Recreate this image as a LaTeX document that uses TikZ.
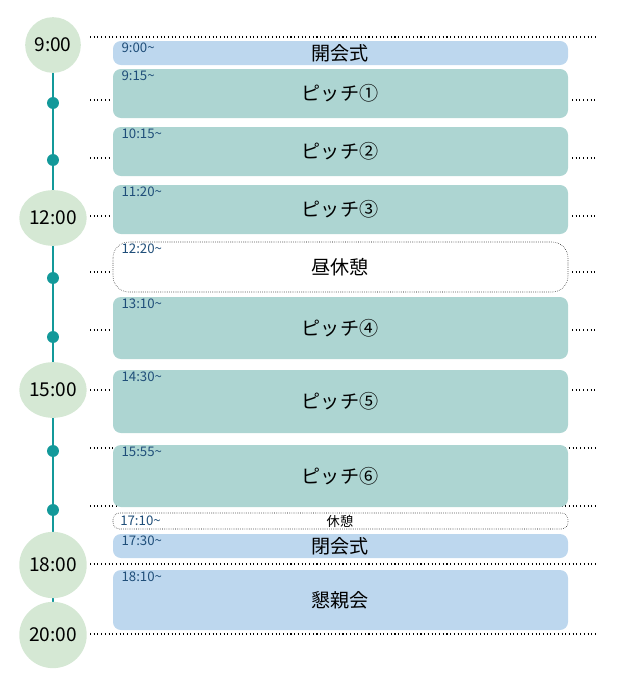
\documentclass[tikz,border=0pt]{standalone}
\usepackage{fontspec}
\setmainfont{Noto Sans CJK JP}
\usetikzlibrary{positioning, shapes.geometric}
\definecolor{lineteal}{HTML}{13999A}
\definecolor{clockgreen}{HTML}{D5E8D4}
\definecolor{pitchfill}{HTML}{ADD5D2}
\definecolor{cerefill}{HTML}{BDD7EE}
\definecolor{timeblue}{HTML}{1F4E79}
\newcommand{\tl}{\textasciitilde}
\begin{document}
\begin{tikzpicture}[x=0.0265cm, y=-0.0265cm,
    clock/.style={ellipse, fill=clockgreen, inner sep=0pt, font=\Large},
    knot/.style={circle, fill=lineteal, minimum size=9pt, inner sep=0pt},
    slot/.style={rounded corners=6pt, draw=none},
    pitch/.style={slot, fill=pitchfill},
    cere/.style={slot, fill=cerefill},
    rest/.style={slot, fill=white, draw=black, densely dotted, rounded corners=12pt},
    stamp/.style={font=\normalsize, text=timeblue, anchor=north west},
    title/.style={font=\Large},
    guide/.style={dotted, thick}
]
    \useasboundingbox (0,0) rectangle (635,689);

    % timeline
    \draw[lineteal, line width=1.5pt] (53,45) -- (53,635);
    \foreach \y in {103,160,278,337,451,510}
        \node[knot] at (53,\y) {};

    % clocks
    \node[clock, minimum width=42pt, minimum height=42pt] (c9) at (53,45) {9:00};
    \node[clock, minimum width=42pt, minimum height=42pt] (c12) at (53,218) {12:00};
    \node[clock, minimum width=42pt, minimum height=42pt] (c15) at (53,390) {15:00};
    \node[clock, minimum width=41pt, minimum height=50pt] (c18) at (53,565) {18:00};
    \node[clock, minimum width=41pt, minimum height=50pt] (c20) at (53,635) {20:00};

    % guide lines
    \foreach \y in {37,448,506,564,634}
        \draw[guide] (90,\y) -- (595,\y);
    \foreach \y in {100,158,216,272,330,390}{
        \draw[guide] (90,\y) -- (110,\y);
        \draw[guide] (572,\y) -- (595,\y);
    }

    % slots
    \foreach \t/\b/\s/\n/\st in {41/65/cere/開会式/9:00,
        69/118/pitch/ピッチ①/9:15, 127/176/pitch/ピッチ②/10:15,
        185/234/pitch/ピッチ③/11:20, 242/292/rest/昼休憩/12:20,
        297/359/pitch/ピッチ④/13:10, 370/433/pitch/ピッチ⑤/14:30,
        445/507/pitch/ピッチ⑥/15:55, 534/558/cere/閉会式/17:30,
        570/630/cere/懇親会/18:10}{
        \draw[\s] (113,\t) rectangle (568,\b);
        \node[title] at (340,{(\t+\b)/2}) {\n};
        \node[stamp, inner sep=1pt] at (120,\t) {\st\tl};
    }

    % short break
    \draw[rest, rounded corners=5pt] (113,513) rectangle (568,529);
    \node[font=\normalsize] at (340,521) {休憩};
    \node[stamp, inner sep=0pt, anchor=west] at (120,521) {17:10\tl};
\end{tikzpicture}
\end{document}
